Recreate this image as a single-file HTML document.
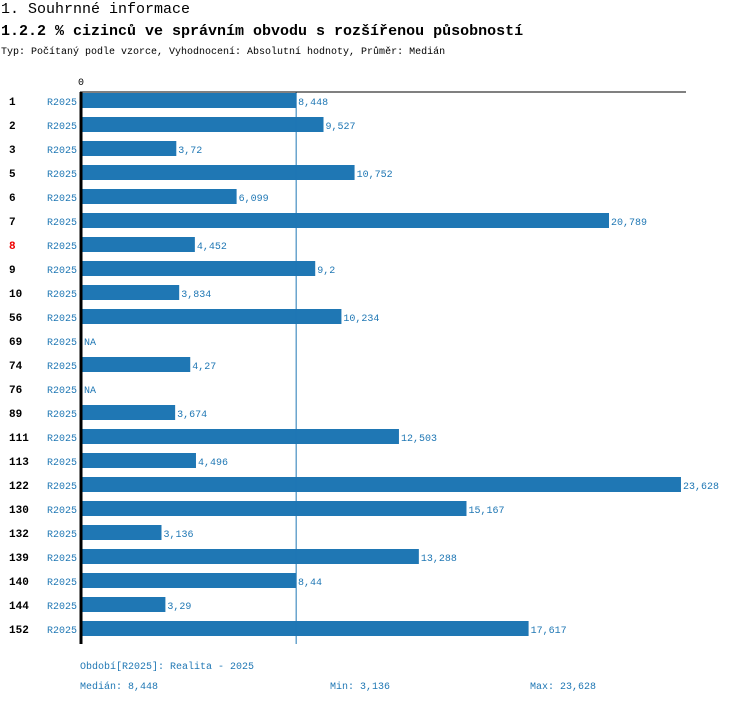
<!DOCTYPE html>
<html><head><meta charset="utf-8"><style>
body{margin:0;background:#fff;width:750px;height:704px;overflow:hidden;font-family:"Liberation Mono",monospace}
</style></head><body>
<svg width="750" height="704" style="position:absolute;left:0;top:0">
<text x="1" y="13" font-size="15" fill="#000">1. Souhrnné informace</text>
<text x="1" y="35" font-size="15" font-weight="bold" fill="#000">1.2.2 % cizinců ve správním obvodu s rozšířenou působností</text>
<text x="1" y="54" font-size="10" fill="#000">Typ: Počítaný podle vzorce, Vyhodnocení: Absolutní hodnoty, Průměr: Medián</text>
<g id="bars"></g>
<text x="80" y="669" font-size="10" fill="#1f77b4">Období[R2025]: Realita - 2025</text>
<text x="80" y="689" font-size="10" fill="#1f77b4">Medián: 8,448</text>
<text x="330" y="689" font-size="10" fill="#1f77b4">Min: 3,136</text>
<text x="530" y="689" font-size="10" fill="#1f77b4">Max: 23,628</text>
</svg>
<script>
const categories=["1","2","3","5","6","7","8","9","10","56","69","74","76","89","111","113","122","130","132","139","140","144","152"];
const values=[8.448,9.527,3.72,10.752,6.099,20.789,4.452,9.2,3.834,10.234,null,4.27,null,3.674,12.503,4.496,23.628,15.167,3.136,13.288,8.44,3.29,17.617];
const valueLabels=["8,448","9,527","3,72","10,752","6,099","20,789","4,452","9,2","3,834","10,234","NA","4,27","NA","3,674","12,503","4,496","23,628","15,167","3,136","13,288","8,44","3,29","17,617"];
const medianValue=8.448;
const highlighted="8";
const ns="http://www.w3.org/2000/svg";
const g=document.getElementById('bars');
const x0=82, scale=25.35, top0=92, pitch=24;
const xs=v=>x0+v*scale;
const ys=i=>top0+i*pitch;
function mk(t,a){const e=document.createElementNS(ns,t);for(const k in a)e.setAttribute(k,a[k]);g.appendChild(e);return e;}
const bottom=ys(categories.length);
categories.forEach((c,i)=>{
  const y=ys(i);
  const lab=mk('text',{x:9,y:y+13,'font-size':11,'font-weight':'bold',fill:c===highlighted?'#e00':'#000'});
  lab.textContent=c;
  
  
  const per=mk('text',{x:47,y:y+13,'font-size':10,fill:'#1f77b4'});
  per.textContent='R2025';
  
  
  const v=values[i];
  let end=x0;
  if(v!=null){
    const r=mk('rect',{x:x0,y:y+1,width:xs(v)-x0,height:15,fill:'#1f77b4'});
    
    
    end=xs(v);
  }
  const vl=mk('text',{x:end+2,y:y+13,'font-size':10,fill:'#1f77b4'});
  vl.textContent=valueLabels[i];
  
  
});
const ml=mk('line',{x1:xs(medianValue),x2:xs(medianValue),y1:top0,y2:bottom,stroke:'#1f77b4','stroke-width':1});


const tl=mk('line',{x1:80,x2:686,y1:top0,y2:top0,stroke:'#000','stroke-width':1});


const ax=mk('line',{x1:81,x2:81,y1:top0,y2:bottom,stroke:'#000','stroke-width':3});


const z=mk('text',{x:78,y:85,'font-size':10,fill:'#000'});
z.textContent='0';


</script>
</body></html>
